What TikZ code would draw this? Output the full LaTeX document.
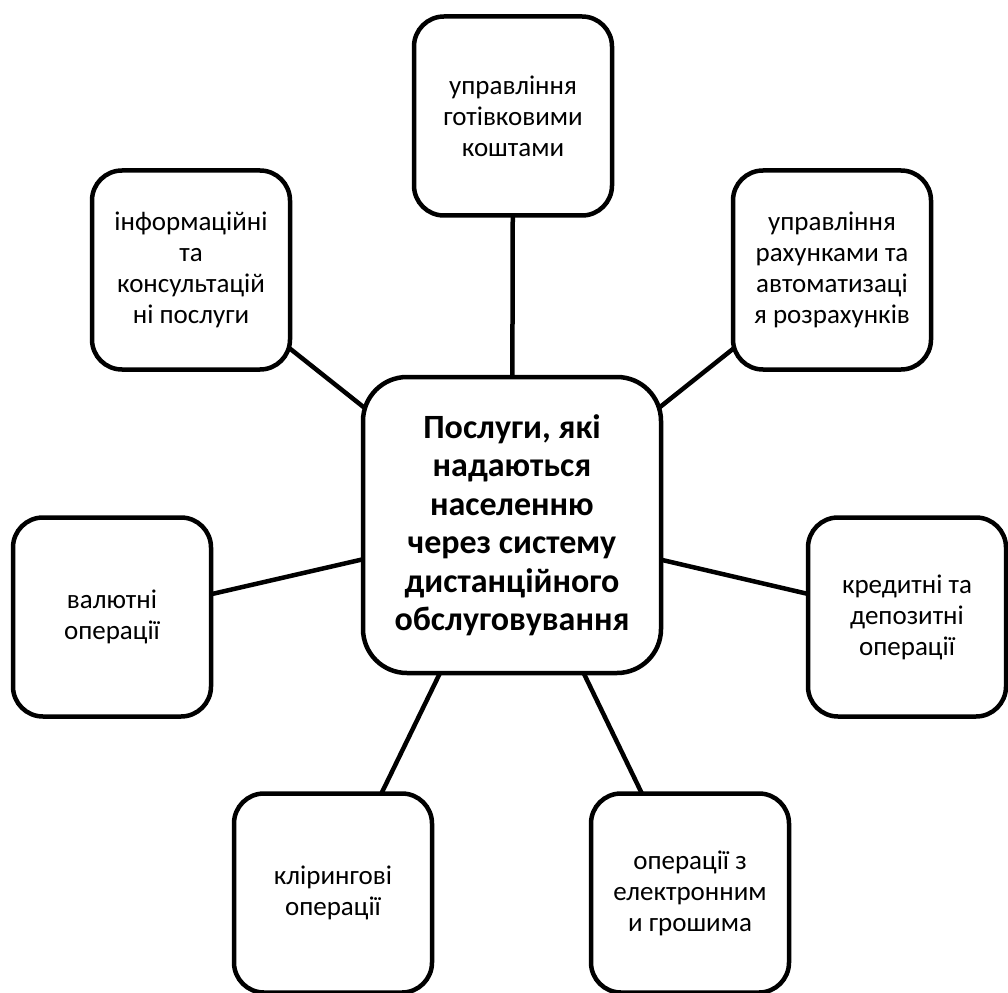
\documentclass[tikz,border=0pt]{standalone}
\usepackage{fontspec}
\setmainfont{Carlito}
\usetikzlibrary{positioning, backgrounds}

\begin{document}
\begin{tikzpicture}[
        x=1pt, y=-1pt,
        item/.style={rectangle, draw, line width=4.5pt, rounded corners=30pt, fill=white, align=center, minimum width=198pt, minimum height=199pt, inner sep=4pt, font=\fontsize{27}{31}\selectfont},
        hub/.style={item, rounded corners=44pt, minimum width=298pt, minimum height=296pt, font=\bfseries\fontsize{34}{38.5}\selectfont},
        link/.style={line width=4.5pt}
        ]
        \useasboundingbox (0,0) rectangle (1008,992);

        \node[hub] (hub) at (512,525) {Послуги, які\\надаються\\населенню\\через систему\\дистанційного\\обслуговування};
        \node[item] (cash) at (513,116) {управління\\готівковими\\коштами};
        \node[item] (accounts) at (832,270) {управління\\рахунками та\\автоматизаці\\я розрахунків};
        \node[item] (credit) at (907,617) {кредитні та\\депозитні\\операції};
        \node[item] (emoney) at (690,893) {операції з\\електронним\\и грошима};
        \node[item] (clearing) at (333,893) {клірингові\\операції};
        \node[item] (currency) at (112,617) {валютні\\операції};
        \node[item] (info) at (191,270) {інформаційні\\та\\консультацій\\ні послуги};

        \begin{scope}[on background layer]
            \foreach \n in {cash, accounts, credit, emoney, clearing, currency, info}
                \draw[link] (hub.center) -- (\n.center);
        \end{scope}
\end{tikzpicture}
\end{document}
